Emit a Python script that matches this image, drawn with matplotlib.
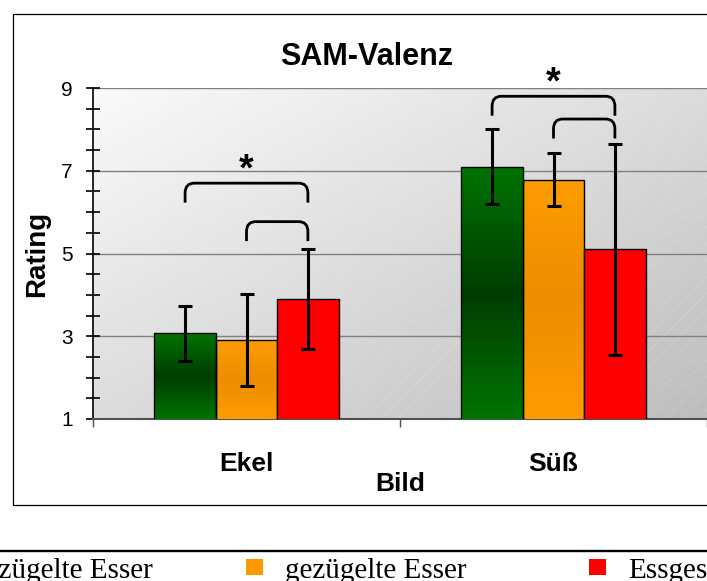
import numpy as np
import matplotlib
matplotlib.use('Agg')
import matplotlib.pyplot as plt
from matplotlib.colors import LinearSegmentedColormap
from matplotlib.patches import Rectangle, PathPatch
from matplotlib.path import Path
from matplotlib.lines import Line2D
from matplotlib.ticker import MultipleLocator

plt.rcParams['font.family'] = ['Liberation Sans', 'DejaVu Sans']
plt.rcParams['hatch.linewidth'] = 0.5

# data
categories = ['Ekel', 'Süß']
series_names = ['ungezügelte Esser', 'gezügelte Esser', 'Essgestörte']
ungezuegelt_mean = [3.07, 7.10]
gezuegelt_mean = [2.90, 6.78]
essgestoert_mean = [3.90, 5.10]
ungezuegelt_sd = [0.66, 0.90]
gezuegelt_sd = [1.11, 0.64]
essgestoert_sd = [1.20, 2.55]

# significance brackets per category: (left bar, right bar, height)
bracket_pairs = [(0, 2), (1, 2)]
bracket_heights = [[6.70, 5.77], [8.80, 8.25]]

means = [ungezuegelt_mean, gezuegelt_mean, essgestoert_mean]
sds = [ungezuegelt_sd, gezuegelt_sd, essgestoert_sd]
gradients = [['#007400', '#003c00', '#007400'],
             ['#fd9c00', '#ee8d00', '#fd9c00'],
             None]
colors = ['#007000', '#ff9900', '#ff0000']

W, H = 707, 581
fig = plt.figure(figsize=(W / 100, H / 100), dpi=100)
ax = fig.add_axes([93 / W, 162 / H, 614 / W, 331 / H])

# plot area background: diagonal grey gradient with faint hatching
u = np.linspace(0, 1, 200)
uu, vv = np.meshgrid(u, u)
bg = 0.98 - 0.24 * (uu + (1 - vv)) / 2
ax.imshow(bg, extent=[0, 2, 1, 9], origin='lower', cmap='gray', vmin=0, vmax=1,
          aspect='auto', zorder=0)
ax.add_patch(Rectangle((0, 1), 2, 8, facecolor='none', edgecolor=(1, 1, 1, 0.18),
                       hatch='//', lw=0, zorder=0.2))

pos = np.arange(len(categories)) + 0.5
width = 0.2
for i in range(3):
    x = pos + (i - 1) * width
    bars = ax.bar(x, means[i], width, color=colors[i], edgecolor='black', lw=1, zorder=3)
    if gradients[i] is not None:
        cmap = LinearSegmentedColormap.from_list('g%d' % i, gradients[i])
        for b, m in zip(bars, means[i]):
            b.set_facecolor('none')
            grad = np.linspace(0, 1, 100).reshape(-1, 1)
            im = ax.imshow(grad, extent=[b.get_x(), b.get_x() + width, 1, m], origin='lower',
                           cmap=cmap, aspect='auto', zorder=2.9)
            im.set_clip_path(b)
    ax.errorbar(x, means[i], yerr=sds[i], fmt='none', ecolor='black', elinewidth=2.2,
                capsize=4.7, capthick=2.2, zorder=4)


def bracket(x0, x1, top, drop=0.47, rx=0.03, ry=0.24):
    verts = [(x0, top - drop), (x0, top - ry), (x0, top), (x0 + rx, top),
             (x1 - rx, top), (x1, top), (x1, top - ry), (x1, top - drop)]
    codes = [Path.MOVETO, Path.LINETO, Path.CURVE3, Path.CURVE3,
             Path.LINETO, Path.CURVE3, Path.CURVE3, Path.LINETO]
    ax.add_patch(PathPatch(Path(verts, codes), fill=False, lw=2, ec='black',
                           zorder=4, clip_on=False))


for c, p in enumerate(pos):
    for (a, b), h in zip(bracket_pairs, bracket_heights[c]):
        bracket(p + (a - 1) * width, p + (b - 1) * width, h)
    ax.text(p, bracket_heights[c][0] + 0.30, '*', ha='center', va='center',
            fontsize=27, fontweight='bold', clip_on=False, zorder=5)

ax.set_xlim(0, 2)
ax.set_ylim(1, 9)
ax.set_yticks([1, 3, 5, 7, 9])
ax.yaxis.set_minor_locator(MultipleLocator(0.5))
ax.tick_params(axis='y', which='both', direction='inout', length=9.5, width=1.2,
               labelsize=15, pad=10)
ax.set_xticks(pos)
ax.set_xticklabels(categories, fontsize=19, fontweight='bold')
ax.set_xticks([0, 1, 2], minor=True)
ax.tick_params(axis='x', which='major', length=0, pad=23.8)
ax.tick_params(axis='x', which='minor', direction='out', length=6, width=1, color='#505050')
ax.yaxis.grid(True, color='#808080', lw=1)
ax.set_axisbelow(True)
for s in ['top', 'right']:
    ax.spines[s].set_visible(False)
ax.spines['left'].set_linewidth(1.2)
ax.spines['bottom'].set_color('#505050')
ax.spines['bottom'].set_linewidth(1.5)

ax.set_xlabel('Bild', fontsize=19, fontweight='bold')
ax.xaxis.set_label_coords(0.5, -0.160)
ax.set_ylabel('Rating', fontsize=20, fontweight='bold')
ax.yaxis.set_label_coords(-0.070, 0.5)

fig.text(366.5 / W, 1 - 65 / H, 'SAM-Valenz', ha='center', va='baseline',
         fontsize=22, fontweight='bold')

# chart frame
fig.add_artist(Rectangle((13 / W, 1 - 505 / H), 1.0, (505 - 14) / H,
                         transform=fig.transFigure, fill=False, ec='black', lw=0.9))

# legend row below the chart (cropped at the page edges as in the source)
fig.add_artist(Line2D([0, 1], [1 - 551 / H] * 2, color='black', lw=1.7,
                      transform=fig.transFigure))
for i, name in enumerate(series_names):
    left = -97 + i * 343
    fig.add_artist(Rectangle((left / W, 1 - 575 / H), 17 / W, 16 / H,
                             transform=fig.transFigure, color=colors[i], lw=0))
    fig.text((left + 39) / W, 1 - 578 / H, name, ha='left', va='baseline',
             fontsize=21, family=['Liberation Serif', 'DejaVu Serif'])

fig.savefig('out.png', dpi=100)
